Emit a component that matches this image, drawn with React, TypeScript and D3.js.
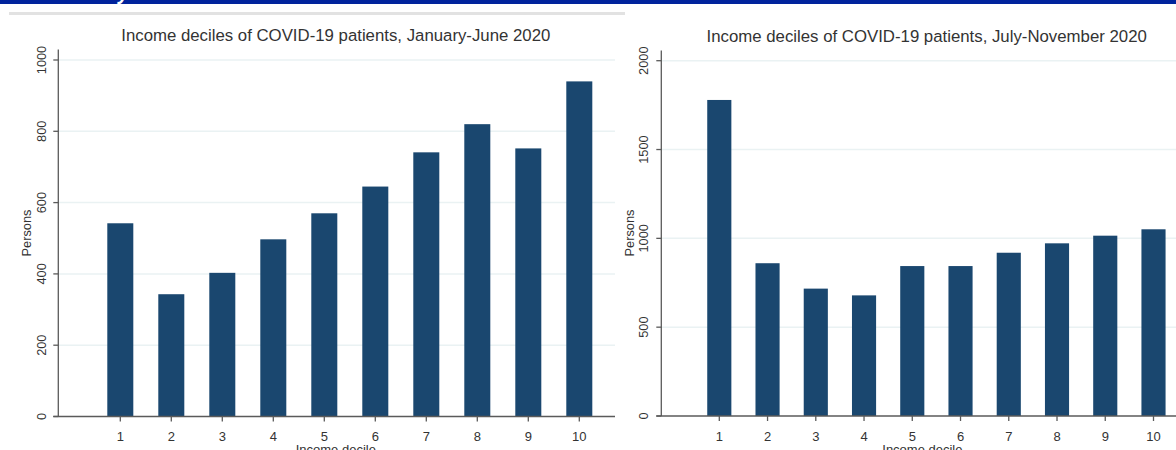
import React from "react";
import * as d3 from "d3";

const deciles = [1, 2, 3, 4, 5, 6, 7, 8, 9, 10];
const janJunePatients = [542, 343, 403, 497, 570, 645, 741, 820, 752, 940];
const julNovPatients = [1779, 860, 717, 679, 844, 844, 919, 972, 1015, 1051];
const leftTicks = [0, 200, 400, 600, 800, 1000];
const rightTicks = [0, 500, 1000, 1500, 2000];
const leftTitle = "Income deciles of COVID-19 patients, January-June 2020";
const rightTitle = "Income deciles of COVID-19 patients, July-November 2020";
const yLabel = "Persons";
const xLabel = "Income decile";

const W = 1176;
const H = 450;
const FONT = "'Liberation Sans', Arial, Helvetica, sans-serif";
const BAR = "#1a476f";
const GRID = "#eaf2f3";
const AXIS = "#5a5a5a";
const TEXT = "#333333";

type PanelProps = {
  values: number[];
  ticks: number[];
  yMax: number;
  axisX: number;
  plotRight: number;
  yTop: number;
  y0: number;
  yTopVal: number;
  x1: number;
  x10: number;
  barFrac: number;
  tickLabelX: number;
  yLabelX: number;
  title: string;
  titleX: number;
  titleY: number;
};

function Panel(p: PanelProps) {
  const x = d3.scaleLinear().domain([1, 10]).range([p.x1, p.x10]);
  const y = d3.scaleLinear().domain([0, p.yMax]).range([p.y0, p.yTopVal]);
  const bw = (x(2) - x(1)) * p.barFrac;
  return (
    <g>
      <text x={p.titleX} y={p.titleY} textAnchor="middle" fontSize={16.8} fill={TEXT} fontFamily={FONT}>
        {p.title}
      </text>
      {p.ticks.filter((t) => t > 0).map((t) => (
        <line key={"g" + t} x1={p.axisX} x2={p.plotRight} y1={y(t)} y2={y(t)} stroke={GRID} strokeWidth={1.5} />
      ))}
      {p.values.map((v, i) => (
        <rect
          key={"b" + i}
          x={x(deciles[i]) - bw / 2}
          y={y(v)}
          width={bw}
          height={y(0) - y(v)}
          fill={BAR}
        />
      ))}
      <line x1={p.axisX} x2={p.axisX} y1={p.yTop} y2={y(0)} stroke={AXIS} strokeWidth={1.3} />
      <line x1={p.axisX - 5} x2={p.plotRight} y1={y(0)} y2={y(0)} stroke={AXIS} strokeWidth={1.3} />
      {p.ticks.map((t) => (
        <g key={"t" + t}>
          <line x1={p.axisX - 5} x2={p.axisX} y1={y(t)} y2={y(t)} stroke={AXIS} strokeWidth={1.3} />
          <text
            transform={`translate(${p.tickLabelX},${y(t)}) rotate(-90)`}
            textAnchor="middle"
            dy="0.36em"
            fontSize={12.8}
            fill={TEXT}
            fontFamily={FONT}
          >
            {t}
          </text>
        </g>
      ))}
      <text
        transform={`translate(${p.yLabelX},233) rotate(-90)`}
        textAnchor="middle"
        fontSize={12.8}
        fill={TEXT}
        fontFamily={FONT}
      >
        {yLabel}
      </text>
      {deciles.map((d) => (
        <g key={"x" + d}>
          <line x1={x(d)} x2={x(d)} y1={y(0)} y2={y(0) + 5} stroke={AXIS} strokeWidth={1.3} />
          <text x={x(d)} y={440.5} textAnchor="middle" fontSize={13} fill={TEXT} fontFamily={FONT}>
            {d}
          </text>
        </g>
      ))}
      <text x={(p.x1 + p.x10) / 2 - 14} y={454} textAnchor="middle" fontSize={13} fill={TEXT} fontFamily={FONT}>
        {xLabel}
      </text>
    </g>
  );
}

export default function App() {
  return (
    <svg
      width={W}
      height={H}
      viewBox={`0 0 ${W} ${H}`}
      style={{ position: "absolute", left: 0, top: 0, display: "block", background: "#ffffff" }}
    >
      <rect x={0} y={0} width={W} height={H} fill="#ffffff" />
      <rect x={0} y={0} width={W} height={4} fill="#00239c" />
      <text x={118} y={0} fontSize={20} fontWeight="bold" fontStyle="italic" fill="#ffffff" fontFamily={FONT}>
        y
      </text>
      <rect x={9} y={12} width={616} height={3} fill="#e2e2e2" />
      <Panel
        values={janJunePatients}
        ticks={leftTicks}
        yMax={1000}
        axisX={58.3}
        plotRight={615}
        yTop={49.5}
        y0={416.5}
        yTopVal={60}
        x1={120.3}
        x10={579.3}
        barFrac={0.51}
        tickLabelX={41.7}
        yLabelX={30.7}
        title={leftTitle}
        titleX={335.8}
        titleY={41}
      />
      <Panel
        values={julNovPatients}
        ticks={rightTicks}
        yMax={2000}
        axisX={661.3}
        plotRight={1176}
        yTop={50.5}
        y0={416}
        yTopVal={60.7}
        x1={719.3}
        x10={1153.5}
        barFrac={0.5}
        tickLabelX={643.8}
        yLabelX={634}
        title={rightTitle}
        titleX={926.7}
        titleY={41.7}
      />
    </svg>
  );
}
